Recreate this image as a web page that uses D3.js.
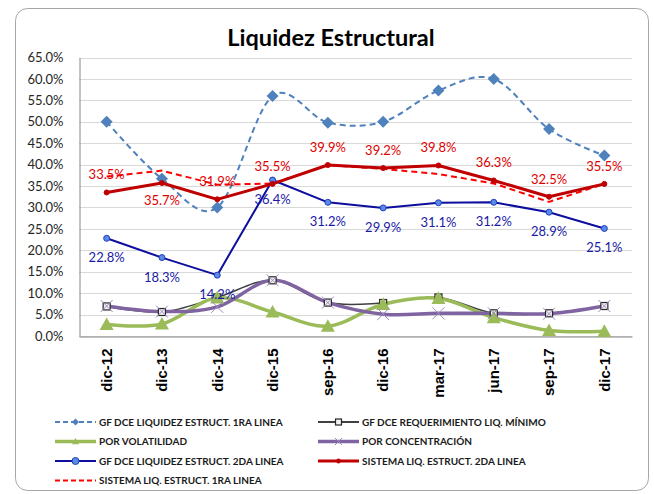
<!DOCTYPE html>
<html>
<head>
<meta charset="utf-8">
<script src="https://cdn.jsdelivr.net/npm/d3@7"></script>
<style>
  body { margin: 0; background: #fff; }
  text { font-family: Lato, "Open Sans", sans-serif; }
</style>
</head>
<body>
<div id="chart"></div>
<script>
// categories and series (percent values)
var categories = ["dic-12", "dic-13", "dic-14", "dic-15", "sep-16", "dic-16", "mar-17", "jun-17", "sep-17", "dic-17"];
var yTicks = [0, 5, 10, 15, 20, 25, 30, 35, 40, 45, 50, 55, 60, 65];

var gfLiq1ra    = [50.0, 36.7, 30.0, 56.0, 49.8, 50.0, 57.3, 60.0, 48.3, 42.1];
var gfReqMin    = [6.9, 5.6, 9.0, 13.0, 7.8, 7.7, 9.0, 5.3, 5.3, 7.0];
var volatilidad = [2.7, 2.8, 8.9, 5.6, 2.3, 7.4, 8.8, 4.3, 1.3, 1.1];
var concentracion = [7.0, 5.7, 6.8, 13.0, 7.8, 5.1, 5.3, 5.3, 5.2, 7.0];
var gfLiq2da    = [22.8, 18.3, 14.2, 36.4, 31.2, 29.9, 31.1, 31.2, 28.9, 25.1];
var sisLiq2da   = [33.5, 35.7, 31.9, 35.5, 39.9, 39.2, 39.8, 36.3, 32.5, 35.5];
var sisLiq1ra   = [37.2, 38.6, 35.3, 35.6, 39.9, 39.0, 37.8, 35.6, 31.3, 35.5];

var width = 654, height = 494;
var margin = {top: 57.5, right: 22, bottom: 158, left: 79};

var svg = d3.select("#chart").append("svg")
  .attr("width", width)
  .attr("height", height);

// outer frame
svg.append("rect")
  .attr("x", 15.5).attr("y", 8.5)
  .attr("width", 633).attr("height", 482)
  .attr("rx", 12)
  .attr("fill", "#fff")
  .attr("stroke", "#a6a6a6")
  .attr("stroke-width", 1);

svg.append("text")
  .attr("x", 331).attr("y", 46)
  .attr("text-anchor", "middle")
  .style("font-family", "Lato, sans-serif")
  .style("font-weight", "bold")
  .style("font-size", "23.5px")
  .attr("fill", "#000")
  .text("Liquidez Estructural");

var x = d3.scaleBand()
  .domain(categories)
  .range([margin.left, width - margin.right]);

var y = d3.scaleLinear()
  .domain([0, 65])
  .range([height - margin.bottom, margin.top]);

function cx(i) { return x(categories[i]) + x.bandwidth() / 2; }

// gridlines
svg.append("g")
  .selectAll("line")
  .data(yTicks)
  .enter()
  .append("line")
  .attr("x1", margin.left).attr("x2", width - margin.right)
  .attr("y1", function(d) { return Math.round(y(d)) + 0.5; })
  .attr("y2", function(d) { return Math.round(y(d)) + 0.5; })
  .attr("stroke", "#d9d9d9")
  .attr("stroke-width", 1);

// y axis
var yAxis = svg.append("g")
  .attr("transform", "translate(" + (margin.left + 0.5) + ",0)")
  .call(d3.axisLeft(y).tickValues(yTicks).tickSize(0).tickPadding(16)
    .tickFormat(function(d) { return d3.format(".1f")(d) + "%"; }));
yAxis.select(".domain").attr("stroke", "#868686");
yAxis.selectAll("text")
  .style("font-family", "Lato, sans-serif")
  .style("font-size", "13px")
  .attr("fill", "#262626");

// x axis
var xAxis = svg.append("g")
  .attr("transform", "translate(0," + (Math.round(y(0)) + 0.5) + ")")
  .call(d3.axisBottom(x).tickSize(0).tickSizeOuter(0));
xAxis.select(".domain").attr("stroke", "#868686");
xAxis.selectAll("text")
  .style("font-family", "'Liberation Sans', Arial, sans-serif")
  .style("font-weight", "bold")
  .style("font-size", "15px")
  .attr("fill", "#000")
  .attr("text-anchor", "end")
  .attr("transform", "rotate(-90)")
  .attr("dx", "-12px")
  .attr("dy", "0.35em")
  .attr("x", 0).attr("y", 0);

function addLine(values, color, w, dash, curve) {
  var line = d3.line()
    .x(function(d, i) { return cx(i); })
    .y(function(d) { return y(d); })
    .curve(curve);
  svg.append("path")
    .datum(values)
    .attr("d", line)
    .attr("fill", "none")
    .attr("stroke", color)
    .attr("stroke-width", w)
    .attr("stroke-dasharray", dash)
    .attr("stroke-linejoin", "round");
}

var smooth = d3.curveCardinal.tension(0);

// series lines
addLine(gfLiq1ra, "#4f81bd", 2, "6,4", smooth);
addLine(sisLiq1ra, "#ff0000", 2, "6,4", d3.curveLinear);
addLine(gfReqMin, "#404040", 1.5, null, smooth);
addLine(volatilidad, "#9bbb59", 3.5, null, smooth);
addLine(concentracion, "#8064a2", 3.5, null, smooth);
addLine(gfLiq2da, "#0d0d9f", 2, null, d3.curveLinear);
addLine(sisLiq2da, "#c00000", 3, null, d3.curveLinear);

// markers
function diamond(g, px, py, s, color) {
  g.append("path")
    .attr("d", "M" + px + "," + (py - s) + "L" + (px + s) + "," + py + "L" + px + "," + (py + s) + "L" + (px - s) + "," + py + "Z")
    .attr("fill", color);
}
function triangle(g, px, py, s, color) {
  g.append("path")
    .attr("d", "M" + px + "," + (py - s) + "L" + (px + s) + "," + (py + s * 0.8) + "L" + (px - s) + "," + (py + s * 0.8) + "Z")
    .attr("fill", color);
}
function cross(g, px, py, s, color) {
  g.append("path")
    .attr("d", "M" + (px - s) + "," + (py - s) + "L" + (px + s) + "," + (py + s) + "M" + (px + s) + "," + (py - s) + "L" + (px - s) + "," + (py + s))
    .attr("stroke", color).attr("stroke-width", 1);
}
function square(g, px, py, s) {
  g.append("rect")
    .attr("x", px - s).attr("y", py - s)
    .attr("width", 2 * s).attr("height", 2 * s)
    .attr("fill", "#f2f2f2").attr("stroke", "#262626").attr("stroke-width", 1.2);
}
function circle(g, px, py, r, fill, stroke) {
  g.append("circle")
    .attr("cx", px).attr("cy", py).attr("r", r)
    .attr("fill", fill).attr("stroke", stroke).attr("stroke-width", 1);
}

var mk = svg.append("g");
categories.forEach(function(c, i) {
  diamond(mk, cx(i), y(gfLiq1ra[i]), 6, "#4f81bd");
  square(mk, cx(i), y(gfReqMin[i]), 3.5);
  triangle(mk, cx(i), y(volatilidad[i]), 7, "#9bbb59");
  cross(mk, cx(i), y(concentracion[i]), 6, "#9b8bbf");
  circle(mk, cx(i), y(gfLiq2da[i]), 3, "#5b8ae6", "#1f3fbf");
  circle(mk, cx(i), y(sisLiq2da[i]), 2.5, "#c00000", "#c00000");
});

// data labels
var fmt = function(d) { return d3.format(".1f")(d) + "%"; };
svg.append("g")
  .selectAll("text")
  .data(sisLiq2da)
  .enter()
  .append("text")
  .attr("x", function(d, i) { return cx(i); })
  .attr("y", function(d, i) { return i === 1 ? y(d) + 22 : y(d) - 13; })
  .attr("text-anchor", "middle")
  .style("font-size", "13px")
  .attr("fill", "#e00000")
  .text(fmt);

svg.append("g")
  .selectAll("text")
  .data(gfLiq2da)
  .enter()
  .append("text")
  .attr("x", function(d, i) { return cx(i); })
  .attr("y", function(d) { return y(d) + 24; })
  .attr("text-anchor", "middle")
  .style("font-size", "13px")
  .attr("fill", "#1a1aa6")
  .text(fmt);

// legend
var legendItems = [
  {name: "GF DCE LIQUIDEZ ESTRUCT. 1RA LINEA", color: "#4f81bd", w: 2, dash: "5,3", mark: "diamond", col: 0, row: 0},
  {name: "GF DCE REQUERIMIENTO LIQ. MÍNIMO", color: "#404040", w: 2, dash: null, mark: "square", col: 1, row: 0},
  {name: "POR VOLATILIDAD", color: "#9bbb59", w: 3.5, dash: null, mark: "triangle", col: 0, row: 1},
  {name: "POR CONCENTRACIÓN", color: "#8064a2", w: 3.5, dash: null, mark: "cross", col: 1, row: 1},
  {name: "GF DCE LIQUIDEZ ESTRUCT. 2DA LINEA", color: "#0d0d9f", w: 2, dash: null, mark: "circle", col: 0, row: 2},
  {name: "SISTEMA LIQ. ESTRUCT. 2DA LINEA", color: "#c00000", w: 3, dash: null, mark: "dot", col: 1, row: 2},
  {name: "SISTEMA LIQ. ESTRUCT. 1RA LINEA", color: "#ff0000", w: 2, dash: "5,3", mark: null, col: 0, row: 3}
];
var legendRows = [422, 441.5, 461, 480.5];
var legendCols = [55, 318];

var lg = svg.append("g");
legendItems.forEach(function(d) {
  var lx = legendCols[d.col], ly = legendRows[d.row];
  lg.append("line")
    .attr("x1", lx).attr("x2", lx + 41)
    .attr("y1", ly).attr("y2", ly)
    .attr("stroke", d.color).attr("stroke-width", d.w)
    .attr("stroke-dasharray", d.dash);
  var mx = lx + 20.5;
  if (d.mark === "diamond") diamond(lg, mx, ly, 3.5, d.color);
  if (d.mark === "square") square(lg, mx, ly, 3);
  if (d.mark === "triangle") triangle(lg, mx, ly, 3.5, d.color);
  if (d.mark === "cross") cross(lg, mx, ly, 3.5, "#9b8bbf");
  if (d.mark === "circle") circle(lg, mx, ly, 3.5, "#5b8ae6", "#1f3fbf");
  if (d.mark === "dot") circle(lg, mx, ly, 2, d.color, d.color);
  lg.append("text")
    .attr("x", lx + 44).attr("y", ly)
    .attr("dy", "0.35em")
    .style("font-family", "Lato, sans-serif")
    .style("font-weight", "bold")
    .style("font-size", "10px")
    .attr("fill", "#1a1a1a")
    .text(d.name);
});
</script>
</body>
</html>
